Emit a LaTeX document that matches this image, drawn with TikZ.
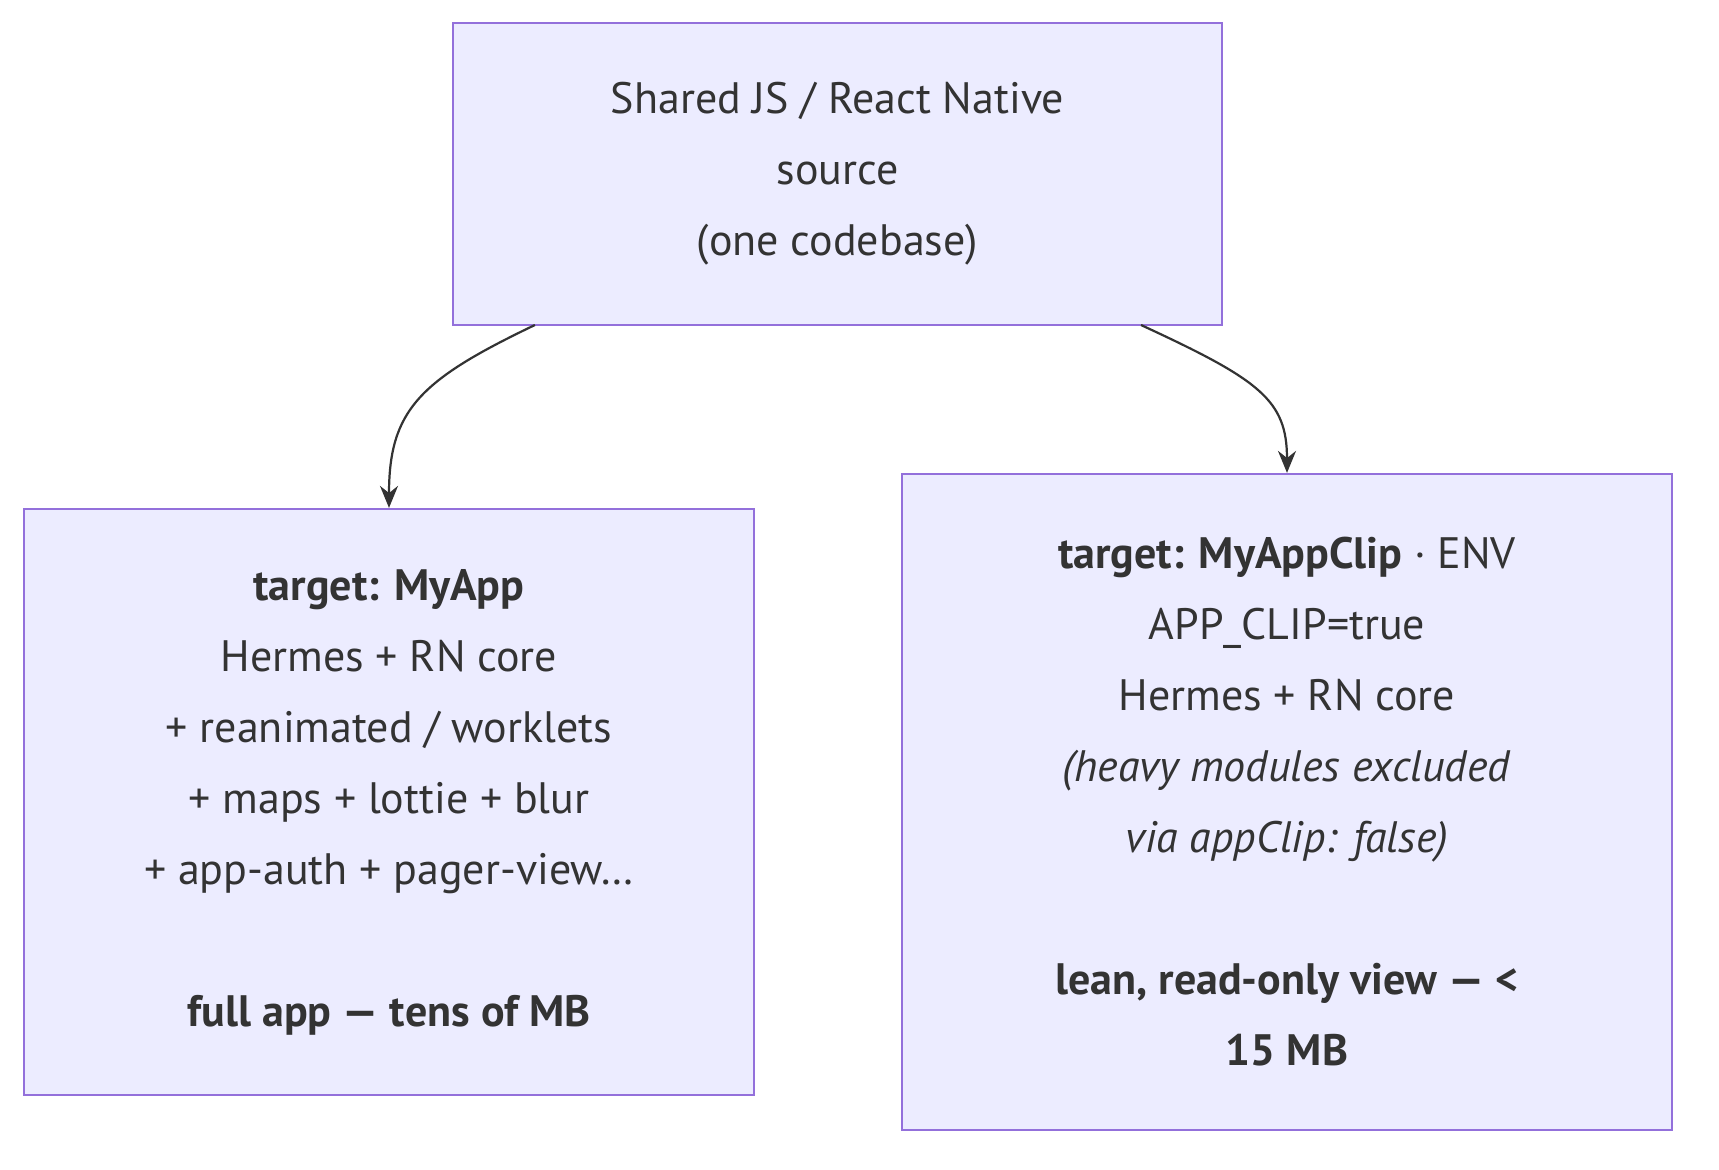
\documentclass[tikz,border=0pt]{standalone}
\usepackage{fontspec}
\setmainfont{PT Sans}
\usetikzlibrary{arrows.meta}
\definecolor{boxfill}{HTML}{ECECFF}
\definecolor{boxline}{HTML}{9370DB}
\definecolor{txt}{HTML}{333333}
\tikzset{
  box/.style={draw=boxline, fill=boxfill, line width=2.2pt, text=txt, align=center, inner sep=0pt,
    font=\fontsize{44}{71}\selectfont},
  conn/.style={draw=txt, line width=2.2pt, -{Stealth[length=22pt,width=18pt]}}
}
\begin{document}
\begin{tikzpicture}[x=1pt,y=-1pt]
\useasboundingbox (0,0) rectangle (1719,1170);
\node[box, minimum width=769pt, minimum height=302pt] (src) at (837.5,174)
 {Shared JS / React Native\\source\\(one codebase)};
\node[box, minimum width=730pt, minimum height=586pt] (app) at (389,802)
 {\textbf{target: MyApp}\\Hermes + RN core\\+ reanimated / worklets\\+ maps + lottie + blur\\+ app-auth + pager-view…\\[71pt]\textbf{full app — tens of MB}};
\node[box, minimum width=770pt, minimum height=656pt] (clip) at (1287,802)
 {\textbf{target: MyAppClip} · ENV\\APP\_CLIP=true\\Hermes + RN core\\\textit{(heavy modules excluded}\\\textit{via appClip: false)}\\[71pt]\textbf{lean, read-only view — <}\\\textbf{15 MB}};
\path[conn] (536,325 -| src.south west) ++(83,0) .. controls (420,380) and (389,410) .. (app.north);
\path[conn] (1141,325) .. controls (1260,380) and (1287,400) .. (clip.north);
\end{tikzpicture}
\end{document}
